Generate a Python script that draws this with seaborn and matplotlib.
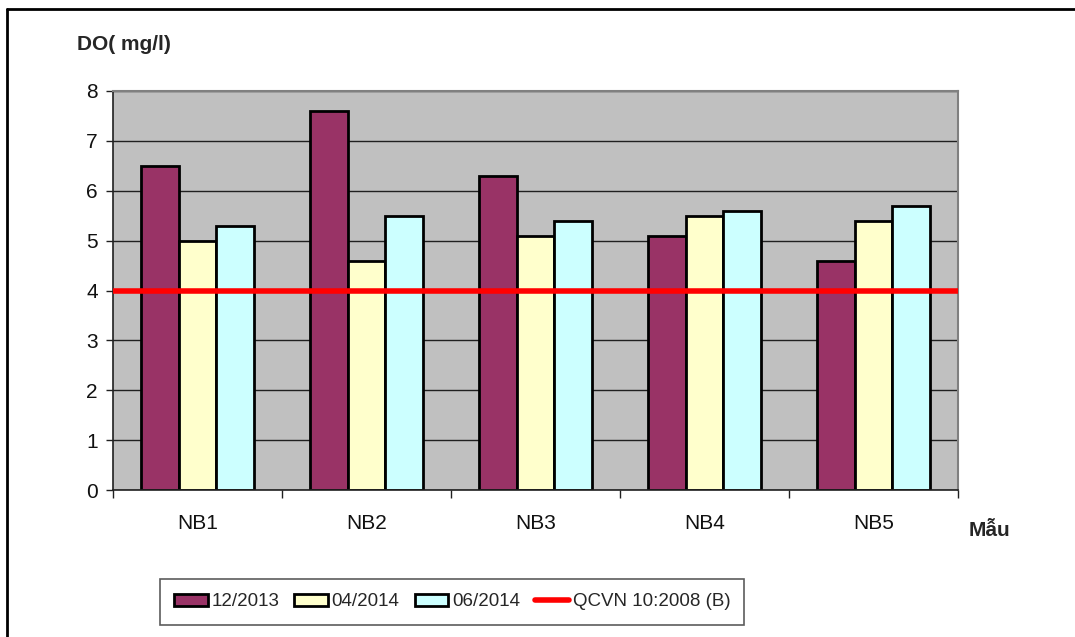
import pandas as pd
import numpy as np
import matplotlib
matplotlib.use('Agg')
import matplotlib.pyplot as plt
from matplotlib.lines import Line2D
from matplotlib.patches import Patch
import seaborn as sns

# data
samples = ['NB1', 'NB2', 'NB3', 'NB4', 'NB5']
periods = ['12/2013', '04/2014', '06/2014']
do_dec2013 = [6.5, 7.6, 6.3, 5.1, 4.6]
do_apr2014 = [5.0, 4.6, 5.1, 5.5, 5.4]
do_jun2014 = [5.3, 5.5, 5.4, 5.6, 5.7]
qcvn_limit = 4
qcvn_label = 'QCVN 10:2008 (B)'
bar_colors = ['#993366', '#FFFFCC', '#CCFFFF']

df = pd.DataFrame({
    'sample': samples * 3,
    'period': [periods[0]] * 5 + [periods[1]] * 5 + [periods[2]] * 5,
    'value': do_dec2013 + do_apr2014 + do_jun2014,
})

sns.set_style('white')
plt.rcParams['font.family'] = ['Liberation Sans', 'DejaVu Sans']

fig = plt.figure(figsize=(10.75, 6.37), dpi=100)
ax = fig.add_axes([113 / 1075, 1 - 490 / 637, 845 / 1075, 399 / 637])
ax.set_facecolor('#C0C0C0')

sns.barplot(data=df, x='sample', y='value', hue='period', palette=bar_colors,
            width=0.67, edgecolor='black', linewidth=2, saturation=1,
            legend=False, ax=ax, zorder=2)
ax.axhline(qcvn_limit, color='#FF0000', lw=4, zorder=3)

ax.set_ylim(0, 8)
ax.set_xlim(-0.5, 4.5)
ax.set_yticks(range(0, 9))
ax.yaxis.grid(True, color='#202020', lw=1)
ax.set_axisbelow(True)
ax.tick_params(axis='y', left=True, length=5, width=1, color='#202020',
               labelsize=15, pad=6, labelcolor='#111111')
ax.set_xticks(range(5))
ax.set_xticklabels(samples)
ax.tick_params(axis='x', which='major', length=0, labelsize=15, pad=17,
               labelcolor='#111111')
ax.set_xticks(np.arange(-0.5, 5, 1), minor=True)
ax.tick_params(axis='x', which='minor', bottom=True, length=6, width=1,
               color='#202020')
ax.set_xlabel('')
ax.set_ylabel('')

for side in ['left', 'bottom']:
    ax.spines[side].set_color('#202020')
    ax.spines[side].set_linewidth(1.2)
for side in ['top', 'right']:
    ax.spines[side].set_color('#808080')
    ax.spines[side].set_linewidth(1.5)

fig.text(77 / 1075, 1 - 45 / 637, 'DO( mg/l)', fontsize=15, fontweight='bold',
         va='center', ha='left')
fig.text(990 / 1075, 1 - 530 / 637, 'Mẫu', fontsize=15, fontweight='bold',
         va='center', ha='center')

handles = [Patch(facecolor=c, edgecolor='black', linewidth=2) for c in bar_colors]
handles.append(Line2D([0], [0], color='#FF0000', lw=4))
leg = fig.legend(handles, periods + [qcvn_label], ncol=4,
                 loc='center', bbox_to_anchor=(452 / 1075, 1 - 602 / 637),
                 fontsize=13.5, frameon=True, fancybox=False, shadow=False,
                 handlelength=1.8, handleheight=0.55, handletextpad=0.2,
                 columnspacing=0.8, borderpad=0.75, borderaxespad=0)
leg.get_frame().set_edgecolor('#333333')
leg.get_frame().set_linewidth(1.2)

# outer frame (only top and left visible in the reference)
fig.add_artist(Line2D([7 / 1075, 1], [1 - 9 / 637, 1 - 9 / 637], color='black',
                      lw=2, transform=fig.transFigure))
fig.add_artist(Line2D([7 / 1075, 7 / 1075], [0, 1 - 9 / 637], color='black',
                      lw=2, transform=fig.transFigure))

fig.savefig('out.png', dpi=100, facecolor='white')
